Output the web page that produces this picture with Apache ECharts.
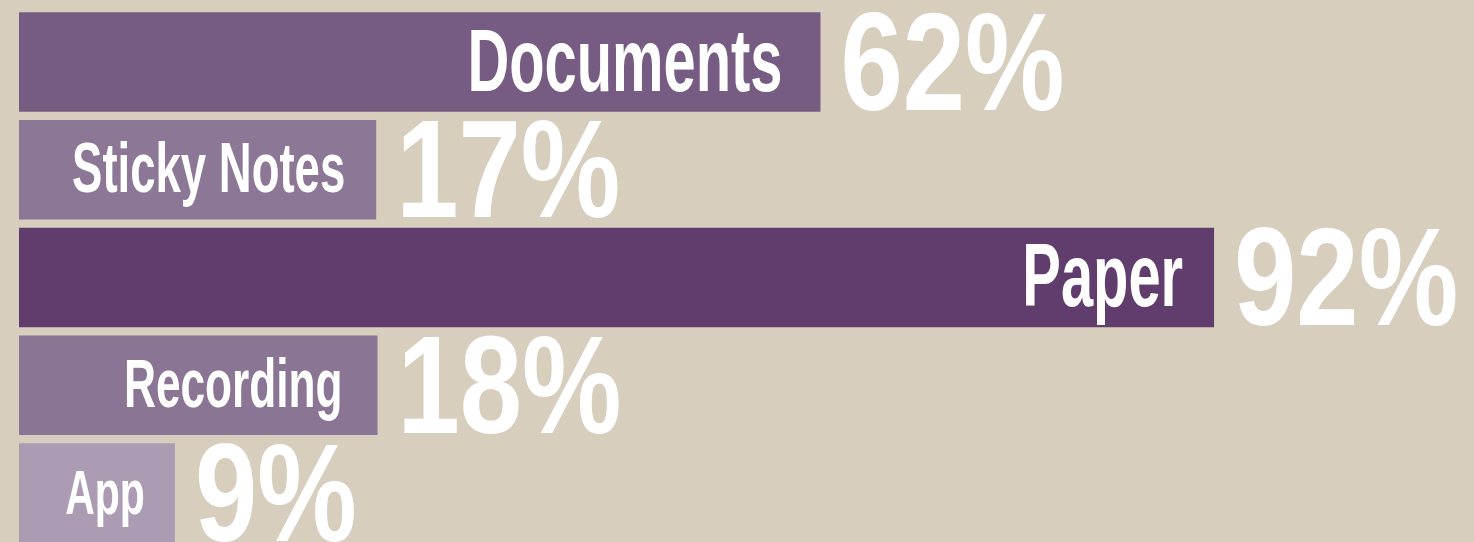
<!DOCTYPE html>
<html>
<head>
<meta charset="utf-8">
<script src="https://cdn.jsdelivr.net/npm/echarts@6/dist/echarts.min.js"></script>
<style>
html,body{margin:0;padding:0;background:#D7CEBE;overflow:hidden;}
#chart{width:1474px;height:548px;}
</style>
</head>
<body>
<div id="chart"></div>
<script>
// Data
const categories = ['Documents', 'Sticky Notes', 'Paper', 'Recording', 'App'];
const shares = [62, 17, 92, 18, 9];                 // printed percentages
const barLengths = [61.7, 27.5, 92, 27.6, 12];      // drawn bar lengths

// Styles
const barColors = ['#765C82', '#8C7896', '#603D6C', '#8A7594', '#AB9CB3'];
const nameSizes = [89, 70, 89, 68, 63];
const nameGaps = [38, 31, 31, 35, 30];
const PCT_SIZE = 140;
const NAME_SCALE = 0.65;   // emulate a condensed typeface
const PCT_SCALE = 0.80;
const FONT = '"Liberation Sans", Arial, sans-serif';

const chart = echarts.init(document.getElementById('chart'), null, {renderer: 'canvas'});

const seriesData = barLengths.map((v, i) => [v, i]);

function renderItem(params, api) {
  const i = params.dataIndex;
  const idx = api.value(1);
  const end = api.coord([api.value(0), idx]);
  const start = api.coord([0, idx]);
  const band = api.size([0, 1])[1];
  const h = band * 0.923;
  const cy = end[1];
  const x0 = start[0], x1 = end[0];
  const nfs = nameSizes[i];
  return {
    type: 'group',
    children: [
      {
        type: 'rect',
        shape: {x: x0, y: cy - h / 2, width: x1 - x0, height: h},
        style: {fill: barColors[i]}
      },
      {
        type: 'text',
        x: x1 - nameGaps[i],
        y: cy + nfs * 0.05,
        scaleX: NAME_SCALE,
        style: {
          text: categories[i],
          fill: '#FFFFFF',
          font: 'bold ' + nfs + 'px ' + FONT,
          align: 'right', textAlign: 'right',
          verticalAlign: 'middle', textVerticalAlign: 'middle'
        }
      },
      {
        type: 'text',
        x: x1 + 20,
        y: cy + PCT_SIZE * 0.065,
        scaleX: PCT_SCALE,
        style: {
          text: shares[i] + '%',
          fill: '#FFFFFF',
          font: 'bold ' + PCT_SIZE + 'px ' + FONT,
          align: 'left', textAlign: 'left',
          verticalAlign: 'middle', textVerticalAlign: 'middle'
        }
      }
    ]
  };
}

chart.setOption({
  backgroundColor: '#D7CEBE',
  animation: false,
  grid: {left: 19, right: 156, top: 8, height: 539, containLabel: false},
  xAxis: {type: 'value', min: 0, max: 100, show: false},
  yAxis: {type: 'category', data: categories, inverse: true, show: false},
  series: [
    {
      type: 'custom',
      renderItem: renderItem,
      clip: false,
      encode: {x: 0, y: 1},
      data: seriesData
    }
  ]
});
</script>
</body>
</html>
